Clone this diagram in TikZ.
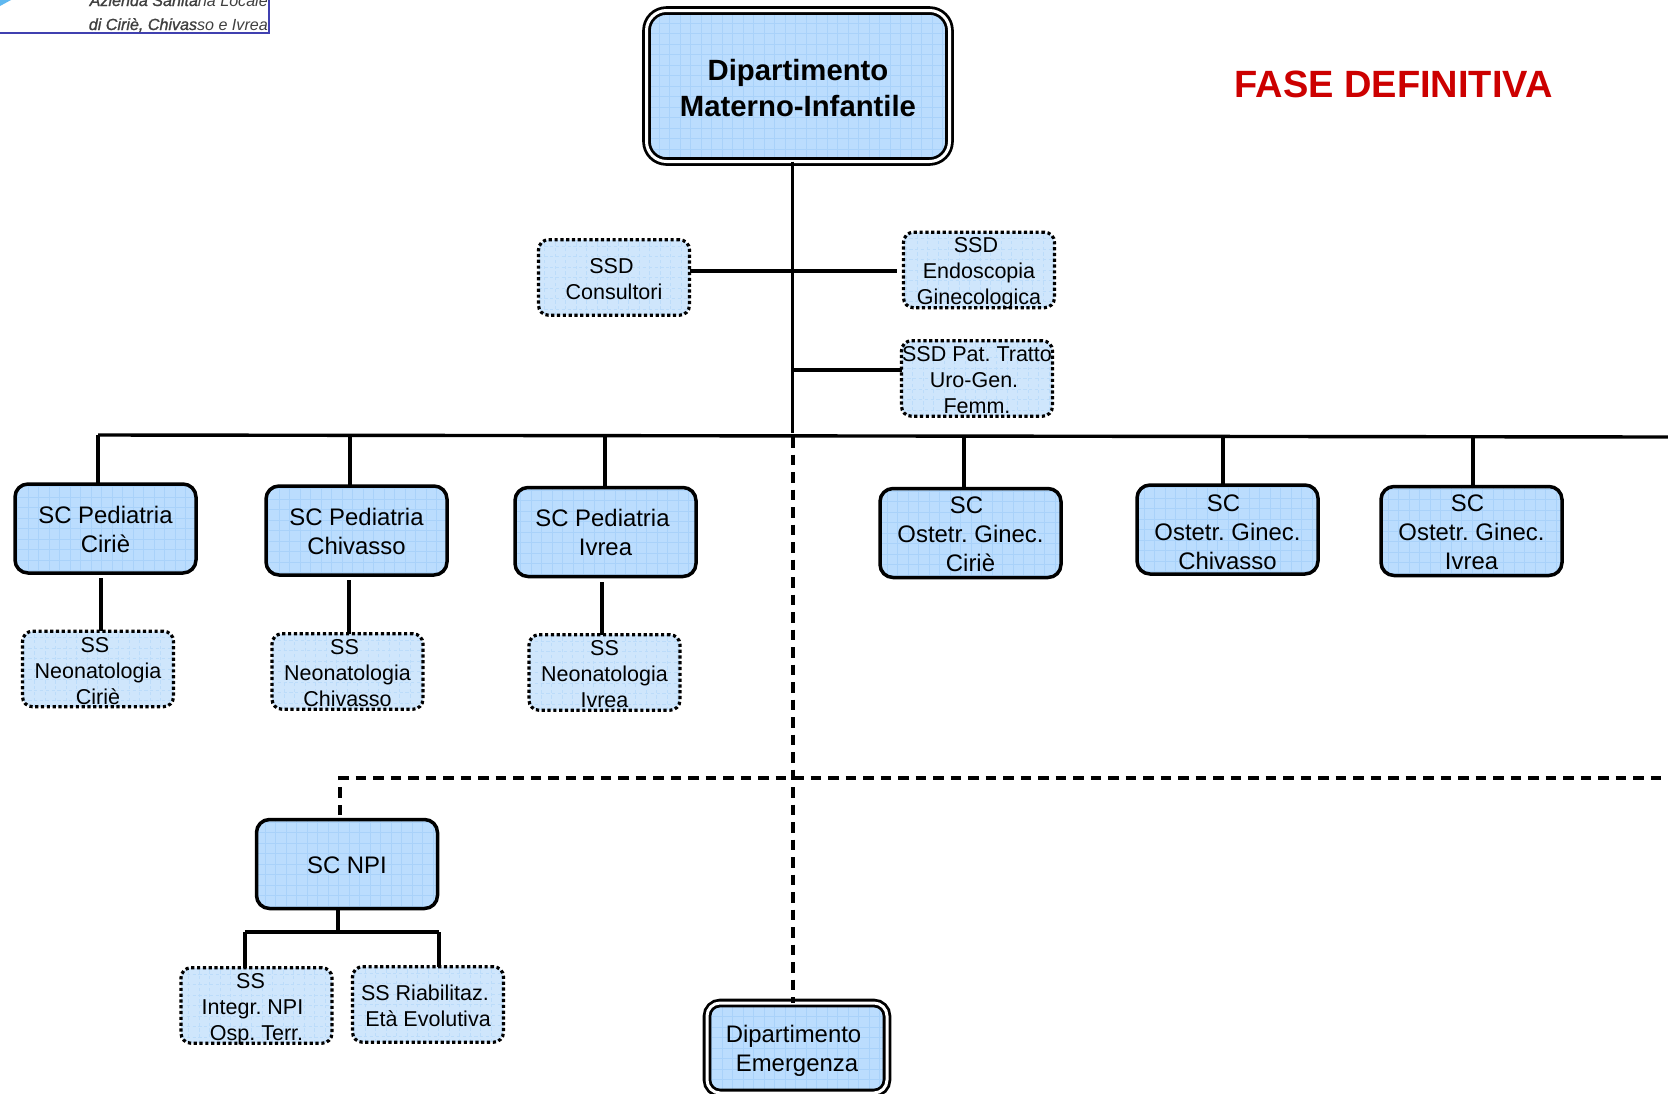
\documentclass[tikz,border=0pt]{standalone}
\usepackage{fontspec}
\setmainfont{Liberation Sans}
\frenchspacing
\newfontface\logobold{Liberation Sans Italic}[FakeBold=1.2]
\newfontface\logoreg{Liberation Sans Italic}
\definecolor{scfill}{HTML}{BBDDFE}
\definecolor{scgrid}{HTML}{A9D2FA}
\definecolor{ssfill}{HTML}{CFE6FC}
\definecolor{ssgrid}{HTML}{BCDCFA}
\definecolor{logoblue}{HTML}{4040B0}
\definecolor{logosky}{HTML}{5FB8F0}
\definecolor{fasered}{HTML}{CC0000}
\newcommand\boxt[2][0pt]{\smash{\raisebox{\dimexpr-.40em-#1\relax}{\begin{tabular}{@{}c@{}}#2\end{tabular}}}}
\tikzset{
  base/.style={rounded corners=13pt,inner sep=0pt,outer sep=0pt,align=center},
  scgridded/.style={fill=scfill,path picture={\draw[scgrid,line width=.7pt]
     (path picture bounding box.north west) grid[step=10.5pt] (path picture bounding box.south east);}},
  ssgridded/.style={fill=ssfill,path picture={\draw[ssgrid,line width=.6pt]
     (path picture bounding box.north west) grid[step=10.5pt] (path picture bounding box.south east);}},
  scbox/.style={base,scgridded,draw=black,line width=3.5pt,minimum width=181pt,minimum height=89pt,
     font=\fontsize{23.9}{29}\selectfont},
  ssbox/.style={base,ssgridded,rounded corners=10pt,draw=black,line width=3.2pt,dash pattern=on 3.2pt off 2.6pt,
     minimum width=151pt,minimum height=75.5pt,font=\fontsize{21.5}{26}\selectfont},
  dipbox/.style={base,scgridded,draw=black,double=white,line width=2.8pt,double distance=3pt,
     font=\fontsize{23.9}{29}\selectfont},
  link/.style={draw=black,line width=3.4pt},
  dlink/.style={draw=black,line width=3.4pt,dash pattern=on 10.5pt off 7pt},
}
\begin{document}
\begin{tikzpicture}[x=1pt,y=-1pt]
\useasboundingbox (0,0) rectangle (1668,1093);
\clip (0,0) rectangle (1668,1093);
\fill[white] (0,0) rectangle (1668,1093);
% logo
\fill[logosky] (0,0) -- (11,0) -- (0,6) -- cycle;
\coordinate (lg1) at (0,33);
\coordinate (lg2) at (269,33);
\coordinate (lg3) at (269,0);
\draw[logoblue,line width=1.6pt] (lg1) -- (lg2) -- (lg3);
\node[anchor=base east,inner sep=0pt,text=black!75,font=\logoreg\fontsize{16.1}{20}\selectfont] (lgb) at (268,30) {{\logobold di Ciriè, Chivas}so e Ivrea};
\node[anchor=base east,inner sep=0pt,text=black!75,font=\logoreg\fontsize{16.1}{20}\selectfont] (lga) at (268,6) {{\logobold Azienda Sanita}ria Locale};
% boxes
\node[dipbox,rounded corners=20pt,minimum width=303pt,minimum height=151pt,
  font=\bfseries\fontsize{29.3}{36}\selectfont] (dmi) at (798,86) {\boxt{Dipartimento\\Materno-Infantile}};
\node[text=fasered,font=\bfseries\fontsize{38}{46}\selectfont,inner sep=0pt] (fase) at (1393.5,84) {FASE DEFINITIVA};

\node[ssbox] (cons) at (614,277.5) {\boxt{\hspace*{-5pt}SSD\\Consultori}};
\node[ssbox] (endo) at (979,270) {\boxt{\hspace*{-6pt}SSD\\Endoscopia\\Ginecologica}};
\node[ssbox] (pat) at (977,378.5) {\boxt{SSD Pat. Tratto\\\hspace*{-6pt}Uro-Gen.\\Femm.}};

\node[scbox] (pedC) at (105.5,528.5) {\boxt{SC Pediatria\\Ciriè}};
\node[scbox] (pedCh) at (356.5,530.5) {\boxt{SC Pediatria\\Chivasso}};
\node[scbox] (pedI) at (605.5,532) {\boxt{\hspace*{-6pt}SC Pediatria\\Ivrea}};
\node[scbox] (ostC) at (970.5,533) {\boxt{\hspace*{-8pt}SC\\Ostetr. Ginec.\\Ciriè}};
\node[scbox] (ostCh) at (1227.5,529.5) {\boxt[1.5pt]{\hspace*{-8pt}SC\\Ostetr. Ginec.\\Chivasso}};
\node[scbox] (ostI) at (1471.5,531) {\boxt{\hspace*{-8pt}SC\\Ostetr. Ginec.\\Ivrea}};

\node[ssbox] (neoC) at (98,669) {\boxt[1pt]{\hspace*{-6pt}SS\\Neonatologia\\Ciriè}};
\node[ssbox] (neoCh) at (347.5,671.5) {\boxt{\hspace*{-6pt}SS\\Neonatologia\\Chivasso}};
\node[ssbox] (neoI) at (604.5,672.5) {\boxt{SS\\Neonatologia\\Ivrea}};

\node[scbox] (npi) at (347,864) {\boxt{SC NPI}};
\node[ssbox] (integr) at (256.5,1005.5) {\boxt{\hspace*{-12pt}SS\\\hspace*{-8pt}Integr. NPI\\Osp. Terr.}};
\node[ssbox] (riab) at (428,1004.5) {\boxt{\hspace*{-6pt}SS Riabilitaz.\\Età Evolutiva}};

\node[dipbox,minimum width=180pt,minimum height=90pt] (dem) at (797,1048) {\boxt{\hspace*{-7pt}Dipartimento\\Emergenza}};

% connector points
\coordinate (busL) at (98,435);
\coordinate (busR) at (1668,437);
\coordinate (tr) at (792.5,433);
\coordinate (hbr) at (897,271);
\coordinate (patj) at (792.5,370);
\coordinate (d2) at (350,435.4);
\coordinate (d3) at (605,435.7);
\coordinate (d4) at (964,436.2);
\coordinate (d5) at (1223,436.4);
\coordinate (d6) at (1473,436.7);
\coordinate (s1) at (101,578);
\coordinate (s2) at (349,580);
\coordinate (s3) at (602,582);
\coordinate (dv) at (793,437);
\coordinate (dhL) at (340,778);
\coordinate (dhR) at (1668,778);
\coordinate (dhm) at (340,815);
\coordinate (n0) at (338,932);
\coordinate (nL) at (245,932);
\coordinate (nR) at (439,932);
% connectors
\draw[link] (tr |- dmi.south) -- (tr);
\draw[link] (cons.east |- hbr) -- (hbr);
\draw[link] (patj) -- (patj -| pat.west);
\draw[link,line cap=square] (busL) -- (busR);
\draw[link] (busL) -- (busL |- pedC.north);
\draw[link] (d2) -- (d2 |- pedCh.north);
\draw[link] (d3) -- (d3 |- pedI.north);
\draw[link] (d4) -- (d4 |- ostC.north);
\draw[link] (d5) -- (d5 |- ostCh.north);
\draw[link] (d6) -- (d6 |- ostI.north);
\draw[link] (s1) -- (s1 |- neoC.north);
\draw[link] (s2) -- (s2 |- neoCh.north);
\draw[link] (s3) -- (s3 |- neoI.north);
\draw[dlink] (dv) -- (dv |- dem.north);
\draw[dlink] (dhm) -- (dhL) -- (dhR);
\draw[link] (n0 |- npi.south) -- (n0);
\draw[link,line cap=square] (nL) -- (nR);
\draw[link] (nL) -- (nL |- integr.north);
\draw[link] (nR) -- (nR |- riab.north);
\end{tikzpicture}
\end{document}
